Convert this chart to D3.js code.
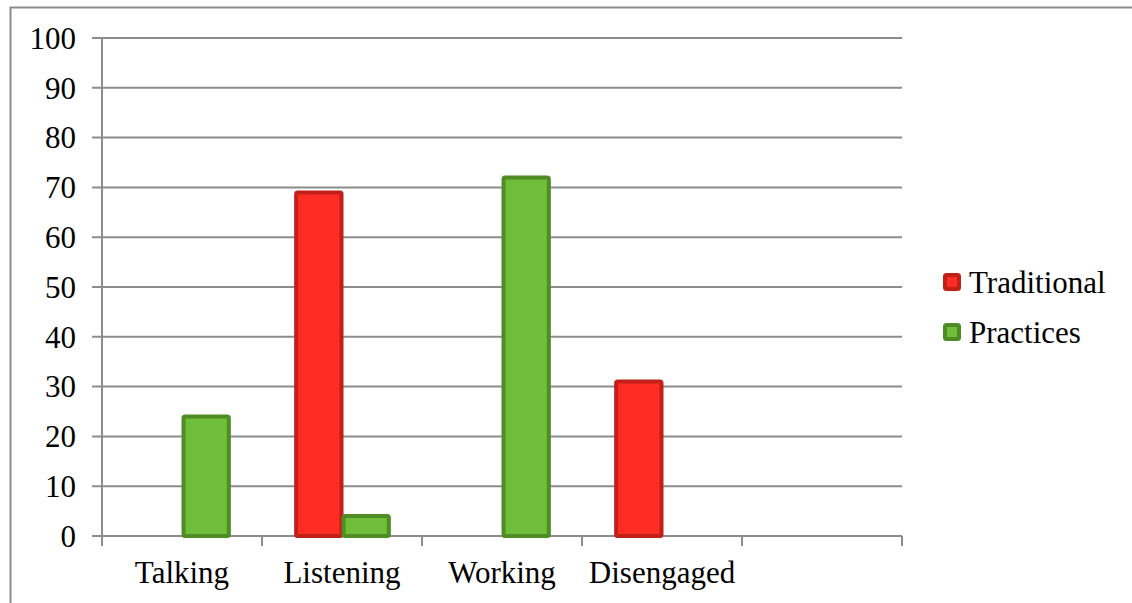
<!DOCTYPE html>
<html>
<head>
<meta charset="utf-8">
<script src="https://cdn.jsdelivr.net/npm/d3@7"></script>
<style>
  body { margin: 0; background: #fff; }
  svg { display: block; }
  text { font-family: 'Liberation Serif', 'Times New Roman', Tinos, 'DejaVu Serif', serif; }
</style>
</head>
<body>
<div id="graph"></div>
<script>
const width = 1132
const height = 603

// data
const categories = ['Talking', 'Listening', 'Working', 'Disengaged', '']
const seriesNames = ['Traditional', 'Practices']
const traditional = [0, 69, 0, 31, null]
const practices = [24, 4, 72, 0, null]
const yTicks = [0, 10, 20, 30, 40, 50, 60, 70, 80, 90, 100]

const fills = {Traditional: '#ff2d24', Practices: '#6fbf3a'}
const strokes = {Traditional: '#c21f19', Practices: '#4f8c25'}

const plot = {left: 102, right: 902, top: 38, bottom: 536}
const fontSize = 31

const svg = d3.select('#graph')
  .append('svg')
  .attr('width', width)
  .attr('height', height)

// outer frame
svg.append('rect')
  .attr('x', 10.5).attr('y', 7.5)
  .attr('width', 1200).attr('height', 700)
  .attr('fill', 'none')
  .attr('stroke', '#8c8c8c')
  .attr('stroke-width', 2)

const x0 = d3.scaleBand().domain(d3.range(categories.length)).range([plot.left, plot.right])
const y = d3.scaleLinear().domain([0, 100]).range([plot.bottom, plot.top])

// gridlines
svg.append('g')
  .selectAll('line')
  .data(yTicks)
  .join('line')
  .attr('x1', plot.left - 10)
  .attr('x2', plot.right)
  .attr('y1', (d) => y(d))
  .attr('y2', (d) => y(d))
  .attr('stroke', '#8c8c8c')
  .attr('stroke-width', 2)

// y axis line
svg.append('line')
  .attr('x1', plot.left).attr('x2', plot.left)
  .attr('y1', plot.top).attr('y2', plot.bottom)
  .attr('stroke', '#8c8c8c').attr('stroke-width', 2)

// x ticks
const xTickPos = d3.range(categories.length + 1).map((i) => plot.left + i * x0.bandwidth())
svg.append('g')
  .selectAll('line')
  .data(xTickPos)
  .join('line')
  .attr('x1', (d) => d).attr('x2', (d) => d)
  .attr('y1', plot.bottom).attr('y2', plot.bottom + 10)
  .attr('stroke', '#8c8c8c').attr('stroke-width', 2)

// y labels
svg.append('g')
  .selectAll('text')
  .data(yTicks)
  .join('text')
  .attr('x', 76)
  .attr('y', (d) => y(d))
  .attr('dy', '0.35em')
  .attr('text-anchor', 'end')
  .attr('font-size', fontSize)
  .text((d) => d)

// category labels
svg.append('g')
  .selectAll('text')
  .data(categories)
  .join('text')
  .attr('x', (d, i) => x0(i) + x0.bandwidth() / 2)
  .attr('y', 583)
  .attr('text-anchor', 'middle')
  .attr('font-size', fontSize)
  .text((d) => d)

// bars
const x1 = d3.scaleBand().domain(seriesNames).range([0, x0.bandwidth()]).paddingOuter(0.69).paddingInner(0)
const barData = []
categories.forEach((c, i) => {
  const vals = [traditional[i], practices[i]]
  seriesNames.forEach((s, j) => {
    if (vals[j]) barData.push({i, s, v: vals[j]})
  })
})

svg.append('g')
  .selectAll('rect')
  .data(barData)
  .join('rect')
  .attr('x', (d) => x0(d.i) + x1(d.s) + 1.5)
  .attr('y', (d) => y(d.v))
  .attr('width', x1.bandwidth() - 2)
  .attr('height', (d) => y(0) - y(d.v))
  .attr('rx', 1.5)
  .attr('fill', (d) => fills[d.s])
  .attr('stroke', (d) => strokes[d.s])
  .attr('stroke-width', 4)

// legend
const legend = svg.append('g')
  .selectAll('g')
  .data(seriesNames)
  .join('g')
  .attr('transform', (d, i) => `translate(945, ${275 + i * 50})`)

legend.append('rect')
  .attr('width', 14).attr('height', 14)
  .attr('rx', 1.5)
  .attr('fill', (d) => fills[d])
  .attr('stroke', (d) => strokes[d])
  .attr('stroke-width', 4)

legend.append('text')
  .attr('x', 24)
  .attr('y', 7)
  .attr('dy', '0.35em')
  .attr('font-size', fontSize)
  .text((d) => d)
</script>
</body>
</html>
